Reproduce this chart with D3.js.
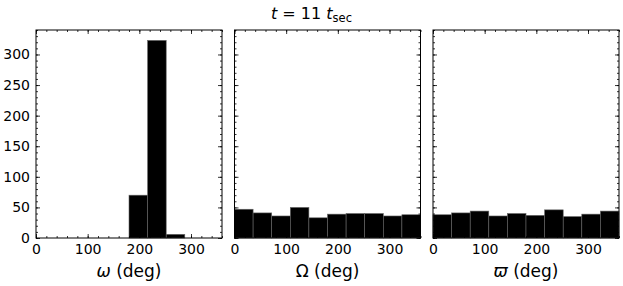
<!DOCTYPE html>
<html><head><meta charset="utf-8">
<script src="https://cdn.jsdelivr.net/npm/d3@7"></script>
<style>body{margin:0;background:#fff}svg{font-family:"DejaVu Sans",sans-serif}</style>
</head><body><svg id="c" width="623" height="286"></svg>
<script>
const binEdges = [0,36,72,108,144,180,216,252,288,324,360];
const omegaCounts = [0,0,0,0,0,70,323,6,0,0];
const OmegaCounts = [47,41,36,50,33,39,40,40,36,38];
const varpiCounts = [38,41,44,36,40,37,46,35,39,44];
const xTicks = [0,100,200,300];
const yTicks = [0,50,100,150,200,250,300];
const labels = [["ω"," (deg)"],["Ω"," (deg)"],["ϖ"," (deg)"]];
const series = [omegaCounts, OmegaCounts, varpiCounts];

(function(){
const svg = d3.select("#c");
const lefts = [36, 234.5, 433];
const w = 186, yTop = 30, yBot = 238;
const y = d3.scaleLinear().domain([0,340]).range([yBot, yTop]);

series.forEach((counts, i) => {
  const x = d3.scaleLinear().domain([0,360]).range([lefts[i], lefts[i]+w]);
  const g = svg.append("g");
  g.selectAll("rect").data(counts).join("rect")
    .attr("x", (d,j)=>x(binEdges[j]))
    .attr("width", (d,j)=>x(binEdges[j+1])-x(binEdges[j]))
    .attr("y", d=>y(d))
    .attr("height", d=>y(0)-y(d))
    .attr("fill", d=> d>0 ? "#000" : "none")
    .attr("stroke", d=> d>0 ? "#666" : "none")
    .attr("stroke-width", 0.6);
  const xMinor = d3.range(0,361,20);
  const yMinor = d3.range(0,341,10);
  const axB = d3.axisBottom(x).tickValues(xTicks).tickSizeInner(-4).tickSizeOuter(0).tickPadding(6).tickFormat(d3.format("d"));
  const axBm = d3.axisBottom(x).tickValues(xMinor).tickSizeInner(-2).tickSizeOuter(0).tickFormat("");
  const axT = d3.axisTop(x).tickValues(xTicks).tickSizeInner(-4).tickSizeOuter(0).tickFormat("");
  const axTm = d3.axisTop(x).tickValues(xMinor).tickSizeInner(-2).tickSizeOuter(0).tickFormat("");
  const axL = d3.axisLeft(y).tickValues(yTicks).tickSizeInner(-4).tickSizeOuter(0).tickPadding(6).tickFormat(i===0 ? d3.format("d") : "");
  const axLm = d3.axisLeft(y).tickValues(yMinor).tickSizeInner(-2).tickSizeOuter(0).tickFormat("");
  const axR = d3.axisRight(y).tickValues(yTicks).tickSizeInner(-4).tickSizeOuter(0).tickFormat("");
  const axRm = d3.axisRight(y).tickValues(yMinor).tickSizeInner(-2).tickSizeOuter(0).tickFormat("");
  const put = (ax, tr) => { const a = g.append("g").attr("transform", tr).call(ax);
    a.select(".domain").remove(); a.selectAll("line").attr("stroke","#000").attr("stroke-width",0.8);
    a.selectAll("text").attr("font-size",14).attr("font-family","DejaVu Sans").attr("fill","#000"); return a; };
  put(axBm, `translate(0,${yBot})`);
  put(axB, `translate(0,${yBot})`);
  put(axTm, `translate(0,${yTop})`);
  put(axT, `translate(0,${yTop})`);
  put(axLm, `translate(${lefts[i]},0)`);
  put(axL, `translate(${lefts[i]},0)`);
  put(axRm, `translate(${lefts[i]+w},0)`);
  put(axR, `translate(${lefts[i]+w},0)`);
  g.append("rect").attr("x", lefts[i]).attr("y", yTop).attr("width", w).attr("height", yBot-yTop)
    .attr("fill","none").attr("stroke","#000").attr("stroke-width",1);
  const t = g.append("text").attr("x", lefts[i]+w/2).attr("y", 277).attr("text-anchor","middle")
    .attr("font-size",17).attr("fill","#000");
  t.append("tspan").attr("font-style", i===1?"normal":"italic").text(labels[i][0]);
  t.append("tspan").text(labels[i][1]);
});

const title = svg.append("text").attr("x", 311.5).attr("y", 19).attr("text-anchor","middle").attr("font-size",16).attr("fill","#000");
title.append("tspan").attr("font-style","italic").text("t");
title.append("tspan").text(" = 11 ");
title.append("tspan").attr("font-style","italic").text("t");
title.append("tspan").attr("font-size",11.5).attr("dy",3).text("sec");
})();
</script></body></html>
